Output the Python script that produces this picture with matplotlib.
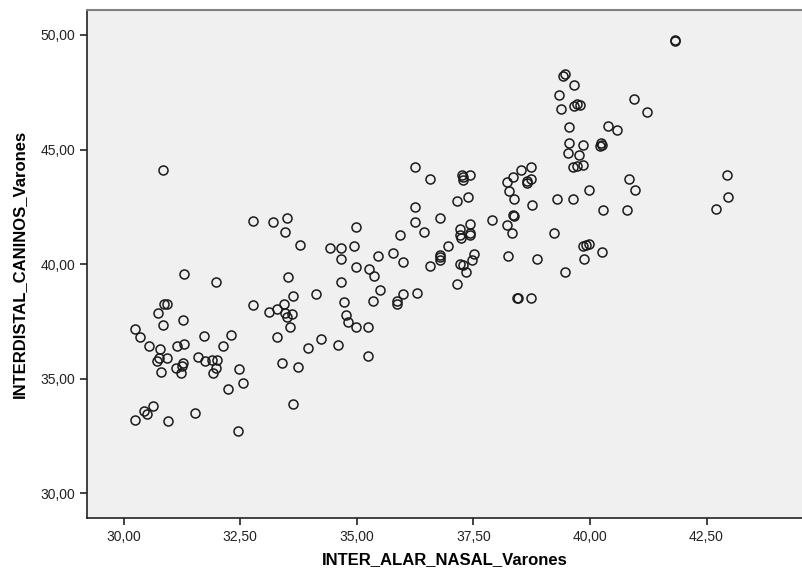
import matplotlib
matplotlib.use("Agg")
from matplotlib import pyplot as plt
from matplotlib.ticker import FuncFormatter

# INTER_ALAR_NASAL_Varones (x) vs INTERDISTAL_CANINOS_Varones (y)
alar_nasal = [
    30.85, 31.30, 31.97, 30.87, 30.93, 32.78, 33.11, 30.74, 31.27, 30.85,
    30.24, 30.34, 31.72, 32.29, 30.55, 30.77, 31.14, 31.29, 32.12, 30.75,
    30.92, 30.71, 31.60, 31.75, 31.89, 31.99, 31.27, 31.11, 31.25, 31.23,
    31.97, 31.92, 30.79, 32.48, 32.55, 32.23, 30.63, 30.43, 30.50, 30.23,
    30.95, 31.52, 32.45,
    36.24, 36.56, 36.24, 36.25, 36.45, 35.93, 34.99, 34.94, 34.42, 34.65,
    34.67, 35.45, 35.78, 35.99, 36.56, 34.99, 35.26, 35.36, 34.67, 35.50,
    36.00, 36.30, 35.86, 35.86, 35.34, 34.72, 34.76, 34.82, 34.98, 35.23,
    34.60, 35.24, 34.12, 33.52, 33.63, 33.44, 33.29, 33.45, 33.50, 33.60,
    33.57, 33.29, 34.22, 33.95, 33.40, 33.74, 33.62, 32.78, 33.21, 33.50,
    33.45, 33.78,
    37.25, 37.27, 37.42, 37.28, 37.14, 37.39, 36.78, 37.21, 37.43, 37.22,
    37.24, 37.43, 37.43, 36.95, 36.78, 36.78, 36.78, 37.22, 37.27, 37.46,
    37.51, 37.34, 37.14, 37.89, 38.23, 38.33, 38.34, 38.36, 38.25, 38.87,
    39.22, 38.76, 38.38, 38.27, 38.23, 38.35, 38.51, 38.73, 38.65, 38.73,
    38.64, 39.29, 39.64, 39.99, 40.29, 39.86, 39.92, 39.99, 39.87, 40.26,
    39.46, 38.43, 38.45, 38.73,
    41.82, 41.83, 39.46, 39.43, 39.65, 39.33, 40.94, 41.23, 39.38, 39.66,
    39.73, 39.79, 39.54, 40.39, 40.58, 40.26, 40.24, 40.22, 39.54, 39.84,
    39.53, 39.76, 39.63, 39.73, 39.86, 40.84, 40.97, 40.79, 42.95, 42.97,
    42.70,
]
interdistal_caninos = [
    44.12, 39.56, 39.24, 38.25, 38.25, 38.21, 37.90, 37.86, 37.55, 37.34,
    37.16, 36.80, 36.86, 36.90, 36.42, 36.31, 36.42, 36.51, 36.43, 35.92,
    35.90, 35.75, 35.94, 35.79, 35.82, 35.83, 35.70, 35.48, 35.56, 35.24,
    35.48, 35.25, 35.31, 35.43, 34.82, 34.57, 33.81, 33.61, 33.46, 33.19,
    33.14, 33.51, 32.72,
    44.24, 43.70, 42.50, 41.82, 41.38, 41.25, 41.62, 40.79, 40.71, 40.71,
    40.22, 40.36, 40.48, 40.10, 39.90, 39.87, 39.79, 39.49, 39.23, 38.88,
    38.69, 38.72, 38.37, 38.25, 38.37, 38.34, 37.76, 37.49, 37.25, 37.25,
    36.46, 36.01, 38.69, 39.42, 38.62, 38.25, 38.03, 37.87, 37.71, 37.82,
    37.25, 36.81, 36.71, 36.35, 35.70, 35.50, 33.88, 41.86, 41.83, 41.99,
    41.41, 40.83,
    43.89, 43.80, 43.89, 43.67, 42.76, 42.93, 41.99, 41.53, 41.75, 41.25,
    41.16, 41.35, 41.25, 40.79, 40.40, 40.30, 40.20, 40.01, 39.97, 40.16,
    40.42, 39.66, 39.15, 41.92, 41.70, 41.35, 42.15, 42.12, 40.36, 40.24,
    41.35, 42.56, 42.85, 43.17, 43.58, 43.78, 44.12, 44.24, 43.61, 43.71,
    43.54, 42.85, 42.85, 43.24, 42.36, 40.77, 40.83, 40.89, 40.24, 40.52,
    39.65, 38.52, 38.50, 38.52,
    49.75, 49.77, 48.30, 48.22, 47.83, 47.36, 47.21, 46.64, 46.75, 46.88,
    46.98, 46.93, 45.97, 46.04, 45.86, 45.21, 45.27, 45.15, 45.28, 45.21,
    44.87, 44.77, 44.24, 44.30, 44.32, 43.71, 43.23, 42.36, 43.90, 42.94,
    42.40,
]
x_ticks = [30.0, 32.5, 35.0, 37.5, 40.0, 42.5]
y_ticks = [30.0, 35.0, 40.0, 45.0, 50.0]

plt.rcParams["font.family"] = ["Liberation Sans Narrow", "Liberation Sans", "DejaVu Sans"]

fig = plt.figure(figsize=(8.03, 5.74), dpi=100)
ax = fig.add_axes([0.1083, 0.0976, 0.8917, 0.885])
ax.set_facecolor("#f0f0f0")

ax.plot(alar_nasal, interdistal_caninos, linestyle="none", marker="o",
        markersize=6.5, markerfacecolor="none", markeredgecolor="#1a1a1a",
        markeredgewidth=1.1)

ax.set_xlim(29.21, 44.57)
ax.set_ylim(28.92, 51.09)
ax.set_xticks(x_ticks)
ax.set_yticks(y_ticks)
comma = FuncFormatter(lambda v, _: f"{v:.2f}".replace(".", ","))
ax.xaxis.set_major_formatter(comma)
ax.yaxis.set_major_formatter(comma)
ax.tick_params(direction="out", length=5, width=1.2, labelsize=10, colors="#222222")

for side in ["left", "bottom"]:
    ax.spines[side].set_color("#222222")
    ax.spines[side].set_linewidth(1.2)
ax.spines["top"].set_color("#808080")
ax.spines["top"].set_linewidth(1.5)
ax.spines["right"].set_visible(False)

ax.set_xlabel("INTER_ALAR_NASAL_Varones", fontsize=12, fontweight="bold", labelpad=6)
ax.set_ylabel("INTERDISTAL_CANINOS_Varones", fontsize=12, fontweight="bold", labelpad=10)

plt.savefig("out.png", dpi=100)
